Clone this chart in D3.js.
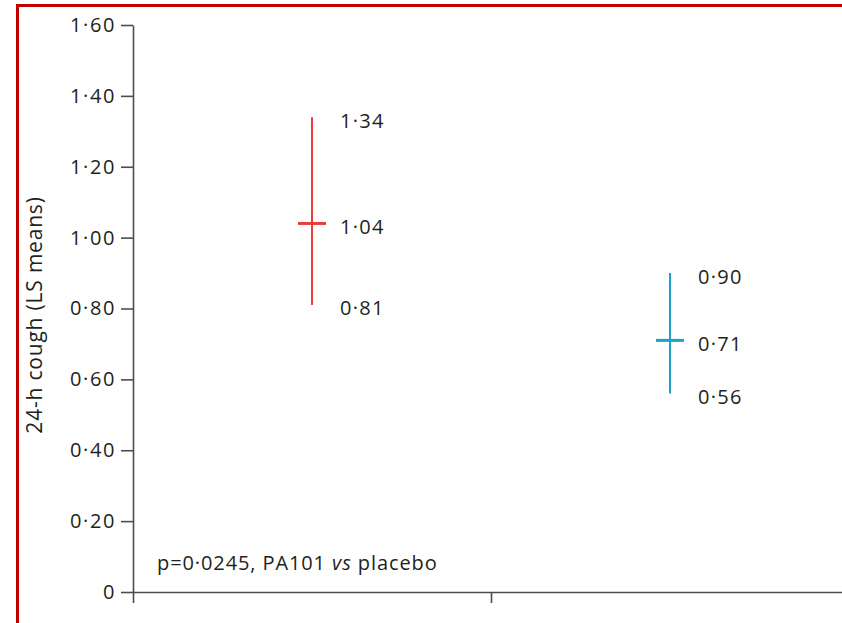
<!DOCTYPE html>
<html><head><meta charset="utf-8">
<script src="https://cdn.jsdelivr.net/npm/d3@7"></script>
<style>
html,body{margin:0;padding:0;background:#fff;}
svg{display:block;}
text{font-family:"Open Sans","Noto Sans",sans-serif;fill:#231f20;}
</style></head>
<body>
<svg id="c" width="842" height="623"></svg>
<script>
// ---- data ----
const groups = ["Placebo", "PA101"];
const means = [1.04, 0.71];
const lower = [0.81, 0.56];
const upper = [1.34, 0.90];
const colors = ["#ee3b3f", "#1aa3c8"];
const yTicks = [0, 0.2, 0.4, 0.6, 0.8, 1.0, 1.2, 1.4, 1.6];
const yTitle = "24-h cough (LS means)";
const note = ["p=0·0245, PA101 ", "vs", " placebo"];

const svg = d3.select("#c");
const fmt = d => d === 0 ? "0" : d3.format(".2f")(d).replace(".", "·");

// frame
svg.append("line").attr("x1", 17.5).attr("x2", 842).attr("y1", 5.5).attr("y2", 5.5)
  .attr("stroke", "#c00000").attr("stroke-width", 3);
svg.append("line").attr("x1", 17.5).attr("x2", 17.5).attr("y1", 4).attr("y2", 623)
  .attr("stroke", "#c00000").attr("stroke-width", 3);

const x0 = 133, x1 = 849, yTop = 25, yBot = 592;
const y = d3.scaleLinear().domain([0, 1.6]).range([yBot, yTop]);
const xb = d3.scaleBand().domain(groups).range([x0, x1]).padding(0);
const xl = d3.scaleLinear().domain([0, groups.length]).range([x0, x1]);

// y axis
const ya = svg.append("g").attr("transform", `translate(${x0},0)`)
  .call(d3.axisLeft(y).tickValues(yTicks).tickFormat(fmt).tickSize(12).tickSizeOuter(0).tickPadding(5));
ya.selectAll("path,line").attr("stroke", "#4d4d4d").attr("stroke-width", 1.6);
ya.selectAll("text").attr("font-size", 20).attr("fill", "#231f20").attr("letter-spacing", 1.6)
  .style("font-family", "'Open Sans','Noto Sans',sans-serif");

// x axis
const xa = svg.append("g").attr("transform", `translate(0,${yBot})`)
  .call(d3.axisBottom(xl).tickValues(d3.range(groups.length + 1)).tickFormat("").tickSize(11).tickSizeOuter(0));
xa.selectAll("path,line").attr("stroke", "#4d4d4d").attr("stroke-width", 1.6);

// y title
svg.append("text").attr("transform", `translate(42,315) rotate(-90)`)
  .attr("text-anchor", "middle").attr("font-size", 21).attr("letter-spacing", 0.8).text(yTitle);

// error bars
groups.forEach((g, i) => {
  const cx = xb(g) + xb.bandwidth() / 2;
  svg.append("line").attr("x1", cx).attr("x2", cx).attr("y1", y(upper[i])).attr("y2", y(lower[i]))
    .attr("stroke", colors[i]).attr("stroke-width", 2);
  svg.append("line").attr("x1", cx - 14).attr("x2", cx + 14).attr("y1", y(means[i])).attr("y2", y(means[i]))
    .attr("stroke", colors[i]).attr("stroke-width", 3);
  [upper[i], means[i], lower[i]].forEach(v => {
    svg.append("text").attr("x", cx + 28).attr("y", y(v) + 3)
      .attr("dominant-baseline", "central").attr("font-size", 20).attr("letter-spacing", 1.3).text(fmt(v));
  });
});

// annotation
const t = svg.append("text").attr("x", 157).attr("y", 562).attr("dominant-baseline", "central")
  .attr("font-size", 20).attr("letter-spacing", 0.9);
t.append("tspan").text(note[0]);
t.append("tspan").attr("font-style", "italic").text(note[1]);
t.append("tspan").text(note[2]);
</script>
</body></html>
